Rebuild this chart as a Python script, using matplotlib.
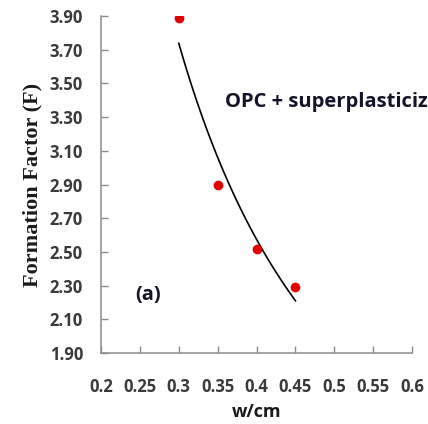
import numpy as np
import matplotlib
matplotlib.use("Agg")
import matplotlib.pyplot as plt

# Data
wcm = [0.30, 0.35, 0.40, 0.45]
formation_factor = [3.89, 2.90, 2.52, 2.29]
x_ticks = [0.2, 0.25, 0.3, 0.35, 0.4, 0.45, 0.5, 0.55, 0.6]
x_tick_labels = ["0.2", "0.25", "0.3", "0.35", "0.4", "0.45", "0.5", "0.55", "0.6"]
y_ticks = [1.90, 2.10, 2.30, 2.50, 2.70, 2.90, 3.10, 3.30, 3.50, 3.70, 3.90]
y_tick_labels = ["%.2f" % v for v in y_ticks]

SANS = ["Open Sans", "DejaVu Sans"]

fig = plt.figure(figsize=(4.28, 4.24), dpi=100)
ax = fig.add_axes([0.236, 0.1675, 0.727, 0.7945])

# Power trendline fitted to the data (Excel-style)
b, ln_a = np.polyfit(np.log(wcm), np.log(formation_factor), 1)
xt = np.linspace(min(wcm), max(wcm), 100)
ax.plot(xt, np.exp(ln_a) * xt ** b, color="black", lw=1.2, zorder=2)

ax.plot(wcm, formation_factor, "o", color="#e00000", ms=7, mec="none", zorder=3)

ax.set_xlim(0.2, 0.6)
ax.set_ylim(1.90, 3.90)
ax.set_xticks(x_ticks)
ax.set_xticklabels(x_tick_labels)
ax.set_yticks(y_ticks)
ax.set_yticklabels(y_tick_labels)

for s in ["top", "right"]:
    ax.spines[s].set_visible(False)
for s in ["left", "bottom"]:
    ax.spines[s].set_color("#8c8c8c")
    ax.spines[s].set_linewidth(1.1)

ax.tick_params(axis="both", direction="in", length=5, width=1.0, color="#8c8c8c",
               labelcolor="#3a3a3a")
ax.tick_params(axis="x", pad=18)
ax.tick_params(axis="y", pad=13)
for lab in ax.get_xticklabels() + ax.get_yticklabels():
    lab.set_fontfamily(SANS)
    lab.set_fontweight("bold")
    lab.set_fontsize(12)

ax.set_xlabel("w/cm", fontfamily=SANS, fontweight="bold",
              fontsize=13, color="#1a1a1a", labelpad=5)
ax.set_ylabel("Formation Factor (F)", fontfamily=["Liberation Serif", "DejaVu Serif"],
              fontweight="bold", fontsize=16, color="#1a1a1a", labelpad=5)

ax.text(0.359, 3.39, "OPC + superplasticizer", fontfamily=SANS,
        fontweight="bold", fontsize=14.5, color="#141428", va="center", ha="left",
        clip_on=False)
ax.text(0.26, 2.244, "(a)", fontfamily=SANS, fontweight="bold",
        fontsize=14.5, color="#141428", va="center", ha="center")

fig.savefig("out.png", dpi=100)
